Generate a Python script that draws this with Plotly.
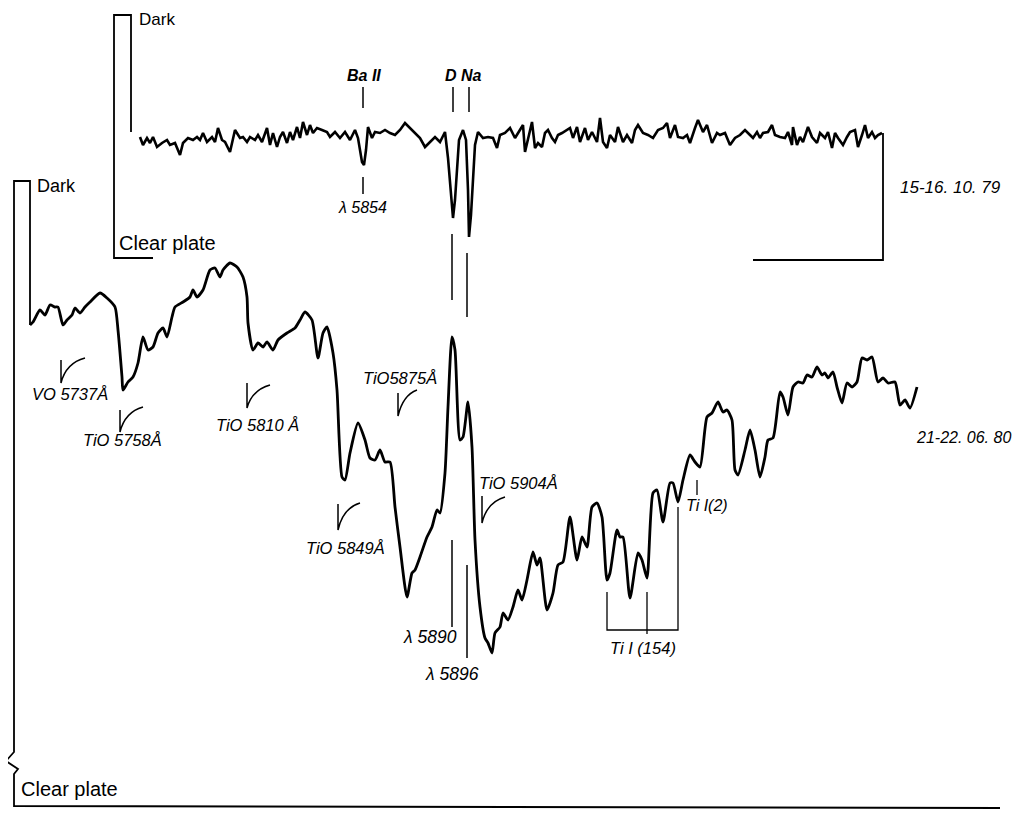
import plotly.graph_objects as go

# ---- Data: densitometer tracings (scan position, deflection) ----
top_x = [140,143,147,150,153,157,162,167,170,175,180,183,188,193,197,200,203,207,212,215,
         218,222,225,230,235,240,243,247,250,255,258,262,267,270,273,277,280,283,287,290,
         293,297,300,303,307,310,313,317,322,327,330,335,340,345,350,355,358,360,362,364,
         366,368,372,375,380,385,390,395,400,405,410,415,420,425,430,435,440,445,448,451,
         453,455,457,459,463,466,468,469,471,473,475,478,483,488,493,497,500,505,510,515,
         520,523,525,528,532,535,538,542,545,548,552,555,558,562,567,570,573,577,580,585,
         588,592,597,600,603,607,610,615,618,623,627,632,635,638,643,648,653,658,663,667,
         670,675,678,683,687,690,695,698,703,707,712,717,720,725,730,735,740,745,750,753,
         757,760,763,768,772,775,780,785,788,792,793,797,800,803,808,812,817,820,825,828,
         832,835,838,843,847,850,855,858,862,865,868,872,875,878,882]
top_y = [137,145,138,143,137,147,143,140,145,143,155,143,138,140,137,140,133,142,137,142,
         128,140,142,152,130,138,137,142,137,140,135,142,128,145,133,147,137,132,143,132,
         140,127,138,122,135,125,133,128,130,132,137,132,138,132,140,130,138,150,162,165,
         150,127,138,132,133,130,133,135,130,123,128,132,138,147,142,137,142,132,158,200,
         218,200,172,140,130,140,190,237,215,175,145,132,138,137,138,148,135,133,128,138,
         130,125,152,140,122,148,143,147,133,130,138,142,135,133,130,128,138,127,142,128,
         140,132,142,118,142,148,135,142,127,142,135,143,130,125,133,135,138,130,128,123,
         138,125,137,138,135,143,128,120,132,125,143,133,135,133,145,138,135,130,135,138,
         132,138,133,132,125,135,137,138,132,145,127,145,137,142,127,137,143,133,138,132,
         148,133,138,145,137,132,130,147,135,125,138,132,138,135,133]

bot_x = [30,33,40,45,50,55,58,63,67,72,75,80,85,90,100,107,115,118,122,123,
         128,133,138,143,148,153,158,163,167,172,175,183,190,193,197,203,210,215,220,223,
         230,237,243,247,248,253,258,263,267,273,278,287,295,300,305,312,318,323,327,333,
         337,342,345,350,358,365,370,375,380,385,390,395,400,407,412,415,420,427,432,437,
         440,445,448,452,455,460,463,468,472,475,480,485,488,492,495,500,503,508,513,518,
         522,527,533,537,540,547,553,558,563,570,577,582,587,592,597,602,607,610,617,620,
         623,630,638,642,647,653,657,663,670,673,678,683,690,695,700,707,712,718,723,727,
         732,735,738,745,750,755,760,765,768,773,780,783,788,793,798,803,807,812,817,822,
         825,828,833,837,842,847,852,857,862,867,872,878,883,888,895,900,905,910,917]
bot_y = [325,322,310,315,305,307,307,325,320,315,308,313,307,302,293,298,307,330,377,390,
         382,377,363,337,350,347,333,328,337,317,307,302,297,290,297,290,270,268,277,270,
         263,267,277,297,323,350,343,347,342,350,340,333,328,320,312,320,358,333,327,353,
         390,477,480,453,423,440,458,460,450,462,462,507,547,597,573,570,557,537,527,510,
         513,473,407,337,350,440,437,402,447,540,607,638,643,653,633,627,613,620,607,590,
         600,580,552,565,558,610,593,565,562,517,560,537,547,507,503,517,580,573,530,537,
         537,598,553,560,578,493,490,522,483,483,502,480,455,462,467,417,413,402,412,410,
         420,470,475,450,430,450,477,457,440,438,392,397,415,387,382,383,375,377,367,375,
         373,378,372,387,403,383,387,382,358,360,357,382,378,383,382,405,400,408,387]

# annotation labels of the lower tracing (check-mark bands)
band_labels = ["VO 5737Å", "TiO 5758Å", "TiO 5810 Å", "TiO5875Å", "TiO 5849Å", "TiO 5904Å"]
band_pos = [(61, 360, 383, 85, 358, 70, 394), (120, 410, 432, 143, 407, 122, 440),
            (247, 383, 408, 270, 385, 257, 425), (398, 393, 416, 417, 390, 400, 378),
            (338, 504, 530, 360, 503, 345, 548), (482, 496, 523, 505, 497, 518, 483)]

fig = go.Figure()
fig.add_trace(go.Scatter(x=top_x, y=top_y, mode="lines",
                         line=dict(color="black", width=2.6), hoverinfo="skip"))
fig.add_trace(go.Scatter(x=bot_x, y=bot_y, mode="lines", line_shape="spline",
                         line=dict(color="black", width=2.8, smoothing=0.6), hoverinfo="skip"))

shapes = []
def seg(pts, w=1.8):
    p = "M " + " L ".join(f"{a},{b}" for a, b in pts)
    shapes.append(dict(type="path", path=p, xref="x", yref="y",
                       line=dict(color="black", width=w)))

# top frame (Dark / Clear plate) and end bracket
seg([(131, 132), (131, 15), (114, 15), (114, 258), (153, 258)])
seg([(883, 133), (883, 260), (753, 260)])
# lower frame with break mark
seg([(30, 325), (30, 181), (14, 181), (14, 752), (6, 761), (18, 769), (14, 774), (14, 806), (1000, 808)])

# marker ticks
seg([(363, 87), (363, 108)], 1.5)
seg([(363, 177), (363, 194)], 1.5)
seg([(453, 87), (453, 112)], 1.5)
seg([(469, 87), (469, 112)], 1.5)
seg([(452, 234), (452, 300)], 1.5)
seg([(467, 253), (467, 317)], 1.5)
seg([(452, 540), (452, 627)], 1.5)
seg([(467, 565), (467, 658)], 1.5)
# Ti I (154) bracket and Ti I (2)
seg([(607, 592), (607, 630), (678, 630), (678, 507)], 1.3)
seg([(647, 592), (647, 634)], 1.3)
seg([(697, 480), (697, 495)], 1.3)

# check marks
for (x0, yt, yb, xe, ye, lx, ly) in band_pos:
    shapes.append(dict(type="path", xref="x", yref="y",
                       path=f"M {x0},{yt} L {x0},{yb} Q {x0+5},{ye+5} {xe},{ye}",
                       line=dict(color="black", width=1.5)))

annotations = []
def txt(x, y, s, size=16.5, italic=True, anchor="center"):
    annotations.append(dict(x=x, y=y, xref="x", yref="y", text=(f"<i>{s}</i>" if italic else s),
                            showarrow=False, xanchor=anchor, yanchor="middle", borderpad=0,
                            font=dict(family="Liberation Sans, Arial, sans-serif", size=size, color="black")))

txt(138, 19, "Dark", 17, False, "left")
txt(118, 243, "Clear plate", 20, False, "left")
txt(36, 186, "Dark", 18, False, "left")
txt(20, 789, "Clear plate", 20, False, "left")
txt(364, 75, "<b>Ba II</b>", 16)
txt(463, 75, "<b>D Na</b>", 16)
txt(362, 207, "λ 5854", 16)
txt(950, 187, "15-16. 10. 79", 17)
txt(963, 437, "21-22. 06. 80", 16)
for lab, (x0, yt, yb, xe, ye, lx, ly) in zip(band_labels, band_pos):
    txt(lx, ly, lab, 16.5)
txt(430, 637, "λ 5890", 17.5)
txt(452, 674, "λ 5896", 17.5)
txt(643, 648, "Ti I (154)", 16.5)
txt(707, 505, "Ti I(2)", 16)

# page body adds an 8px offset, so the axis ranges are shifted to keep figure pixels aligned
fig.update_layout(
    width=1027, height=813, margin=dict(l=0, r=0, t=0, b=0),
    paper_bgcolor="white", plot_bgcolor="white", showlegend=False,
    shapes=shapes, annotations=annotations,
    xaxis=dict(range=[8, 1035], visible=False, fixedrange=True),
    yaxis=dict(range=[821, 8], visible=False, fixedrange=True),
)
fig.write_html("out.html")
